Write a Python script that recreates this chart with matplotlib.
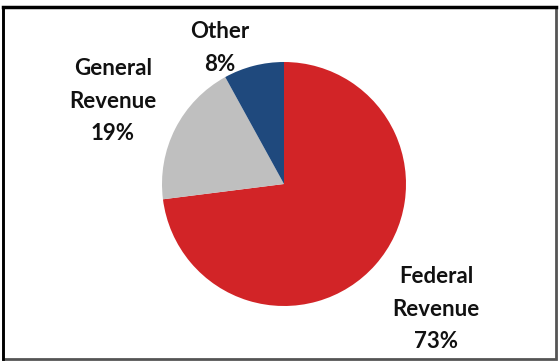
import matplotlib.pyplot as plt
from matplotlib.patches import Rectangle

labels = ['Federal\nRevenue', 'General\nRevenue', 'Other']
shares = [73, 19, 8]
colors = ['#D22427', '#BFBFBF', '#1F497D']

# label positions in pixels (x from left, y from top)
label_pos = [(436, 309), (113, 101), (220, 48)]

W, H = 559, 361
fig = plt.figure(figsize=(W / 100, H / 100), dpi=100)
ax = fig.add_axes([0, 0, 1, 1])

ax.pie(shares, colors=colors, startangle=90, counterclock=False,
       center=(284, H - 184), radius=122, frame=True,
       wedgeprops=dict(linewidth=0))
ax.set_xlim(0, W)
ax.set_ylim(0, H)
ax.set_aspect('equal')
ax.axis('off')

for lab, val, (x, y) in zip(labels, shares, label_pos):
    ax.text(x, H - y, f'{lab}\n{val}%', ha='center', va='center',
            fontsize=16, family='Lato', fontweight='bold',
            linespacing=1.7, color='#111111')

# frame around the chart
ax.add_patch(Rectangle((3, 2), W - 6, H - 9, fill=False,
                       edgecolor='#555555', linewidth=2))
ax.plot([3, W - 3], [H - 7, H - 7], color='black', linewidth=2.5)
ax.plot([3, 3], [2, H - 7], color='black', linewidth=2)

fig.savefig('out.png', dpi=100)
